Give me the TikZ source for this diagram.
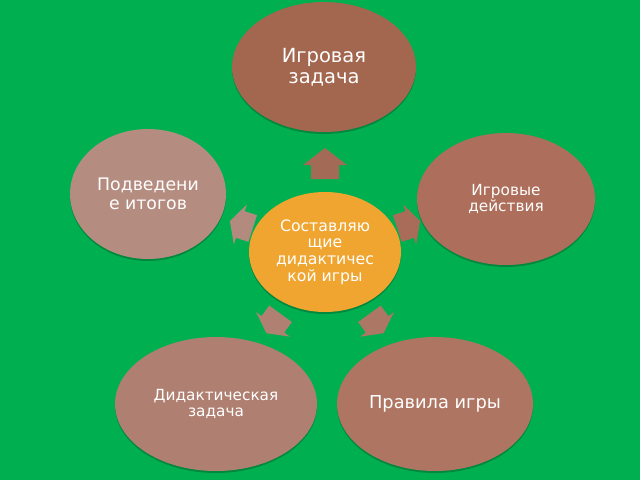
\documentclass[tikz,border=0pt]{standalone}
\usepackage{fontspec}
\setmainfont{DejaVu Sans}
\usetikzlibrary{shapes.geometric}
\definecolor{bg}{HTML}{00B050}
\definecolor{cTop}{HTML}{A3664F}
\definecolor{cLeft}{HTML}{B58C80}
\definecolor{cRight}{HTML}{AD6F5B}
\definecolor{cCenter}{HTML}{EFA52F}
\definecolor{cBL}{HTML}{AF8071}
\definecolor{cBR}{HTML}{AE7563}
\definecolor{aTop}{HTML}{A36A55}
\definecolor{aLeft}{HTML}{B38A7E}
\definecolor{aRight}{HTML}{A86C58}
\definecolor{aBL}{HTML}{B08072}
\definecolor{aBR}{HTML}{AD7765}
\tikzset{
  bubble/.style={ellipse, inner sep=2pt, text=white, align=center},
  shadowfill/.style={fill=black, opacity=0.22}
}
% #1,#2 centre, #3 angle, #4 colour, #5 back, #6 head base, #7 tip, #8 shaft half width, #9 head half width
\newcommand{\myarrow}[9]{%
  \begin{scope}[shift={(#1,#2)}, rotate=#3]
    \fill[#4] (#5,-#8) -- (#6,-#8) -- (#6,-#9) -- (#7,0) -- (#6,#9) -- (#6,#8) -- (#5,#8) -- cycle;
  \end{scope}}
\begin{document}
\begin{tikzpicture}[x=1pt,y=-1pt]
\useasboundingbox (0,0) rectangle (640,480);
\fill[bg] (0,0) rectangle (640,480);
% shadows
\fill[shadowfill] (324,69) ellipse [x radius=92, y radius=65];
\fill[shadowfill] (148,196) ellipse [x radius=78, y radius=65];
\fill[shadowfill] (506,201) ellipse [x radius=89, y radius=66];
\fill[shadowfill] (325,254) ellipse [x radius=76, y radius=60];
\fill[shadowfill] (216,406) ellipse [x radius=101, y radius=67];
\fill[shadowfill] (435,406) ellipse [x radius=98, y radius=67];
% ellipses
\node[bubble, fill=cTop, minimum width=184, minimum height=130, font=\fontsize{19.5}{21.5}\selectfont] (top) at (324,67) {Игровая\\задача};
\node[bubble, fill=cLeft, minimum width=156, minimum height=130, font=\fontsize{17.3}{18.5}\selectfont] (left) at (148,194) {Подведени\\е итогов};
\node[bubble, fill=cRight, minimum width=178, minimum height=132, font=\fontsize{15.3}{16.7}\selectfont] (right) at (506,199) {Игровые\\действия};
\node[bubble, fill=cBL, minimum width=202, minimum height=134, font=\fontsize{15.3}{16.7}\selectfont] (bl) at (216,404) {Дидактическая\\задача};
\node[bubble, fill=cBR, minimum width=196, minimum height=134, font=\fontsize{17.8}{19}\selectfont] (br) at (435,404) {Правила игры};
\node[bubble, fill=cCenter, minimum width=152, minimum height=120, font=\fontsize{15.7}{16.6}\selectfont] (center) at (325,252) {Составляю\\щие\\дидактичес\\кой игры};
% arrows
\myarrow{325}{163.5}{90}{aTop}{-15.5}{-1.5}{15.5}{14}{22}
\myarrow{241.3}{224.8}{162}{aLeft}{-12}{1}{12}{14}{21}
\myarrow{408.7}{224.8}{18}{aRight}{-12}{1}{12}{14}{21}
\myarrow{273.5}{323.5}{234}{aBL}{-12}{1}{12}{14}{21}
\myarrow{376.5}{323.5}{306}{aBR}{-12}{1}{12}{14}{21}
\end{tikzpicture}
\end{document}
